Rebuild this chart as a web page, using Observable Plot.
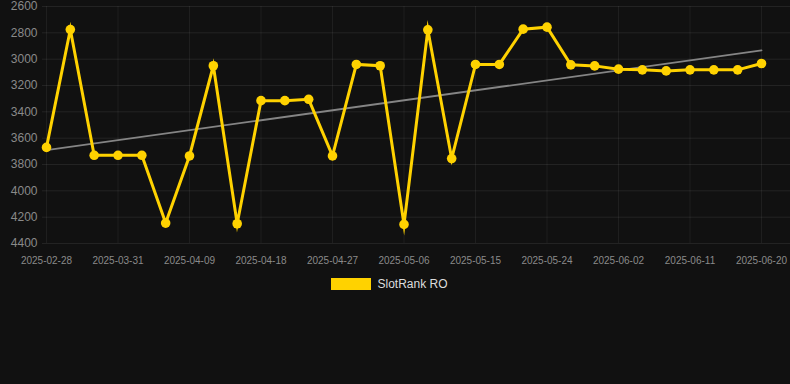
<!DOCTYPE html>
<html>
<head>
<meta charset="utf-8">
<script src="https://cdn.jsdelivr.net/npm/d3@7"></script>
<script src="https://cdn.jsdelivr.net/npm/@observablehq/plot@0.6"></script>
<style>
  html, body { margin: 0; padding: 0; background: #111111; }
  body { width: 790px; height: 384px; overflow: hidden; font-family: "Liberation Sans", Arial, Helvetica, sans-serif; }
  #chart svg { display: block; }
  .legend { display: flex; justify-content: center; align-items: center; margin-top: 8px; padding-right: 11px; }
  .legend .sw { width: 40px; height: 12px; background: #FFD200; margin-right: 6px; }
  .legend .lb { color: #dddddd; font-size: 12px; line-height: 12px; }
</style>
</head>
<body>
<div id="chart"></div>
<div class="legend"><div class="sw"></div><div class="lb">SlotRank RO</div></div>
<script>
const dates = [
  "2025-02-28", "2025-03-25", "2025-03-28", "2025-03-31", "2025-04-03", "2025-04-06",
  "2025-04-09", "2025-04-12", "2025-04-15", "2025-04-18", "2025-04-21", "2025-04-24",
  "2025-04-27", "2025-04-30", "2025-05-03", "2025-05-06", "2025-05-09", "2025-05-12",
  "2025-05-15", "2025-05-18", "2025-05-21", "2025-05-24", "2025-05-27", "2025-05-30",
  "2025-06-02", "2025-06-05", "2025-06-08", "2025-06-11", "2025-06-14", "2025-06-17",
  "2025-06-20"
];
const ranks = [
  3670, 2775, 3730, 3730, 3730, 4245,
  3735, 3050, 4250, 3315, 3315, 3305,
  3735, 3040, 3050, 4255, 2777, 3755,
  3040, 3040, 2772, 2757, 3043, 3051,
  3076, 3081, 3089, 3081, 3081, 3081,
  3033
];
const yTicks = [2600, 2800, 3000, 3200, 3400, 3600, 3800, 4000, 4200, 4400];
const xTickIndex = dates.map((d, i) => i).filter(i => i % 3 === 0);

const data = ranks.map((v, i) => ({i, date: dates[i], v}));

const chart = Plot.plot({
  width: 790,
  height: 270,
  marginTop: 6,
  marginBottom: 27,
  marginLeft: 42,
  marginRight: 0,
  style: {background: "#111111", fontFamily: "'Liberation Sans', Arial, sans-serif"},
  x: {type: "linear", domain: [0, dates.length - 1], range: [46, 761]},
  y: {domain: [2600, 4400], reverse: true},
  marks: [
    Plot.gridY(yTicks, {stroke: "#ffffff", strokeOpacity: 0.08, strokeWidth: 1}),
    Plot.gridX(xTickIndex, {stroke: "#ffffff", strokeOpacity: 0.06, strokeWidth: 1}),
    Plot.axisY(yTicks, {tickSize: 0, tickPadding: 5, fill: "#8a8a8a", fontSize: 12, label: null,
      tickFormat: d => String(d)}),
    Plot.axisX(xTickIndex, {tickSize: 0, tickPadding: 13, fill: "#8a8a8a", fontSize: 10, label: null,
      tickFormat: i => dates[i]}),
    Plot.linearRegressionY(data, {x: "i", y: "v", stroke: "#858585", strokeWidth: 1.8, ci: 0}),
    Plot.line(data, {x: "i", y: "v", stroke: "#FFD200", strokeWidth: 3, strokeLinejoin: "miter", strokeMiterlimit: 10}),
    Plot.dot(data, {x: "i", y: "v", r: 4.8, fill: "#FFD200", stroke: null})
  ]
});
document.getElementById("chart").appendChild(chart);
</script>
</body>
</html>
